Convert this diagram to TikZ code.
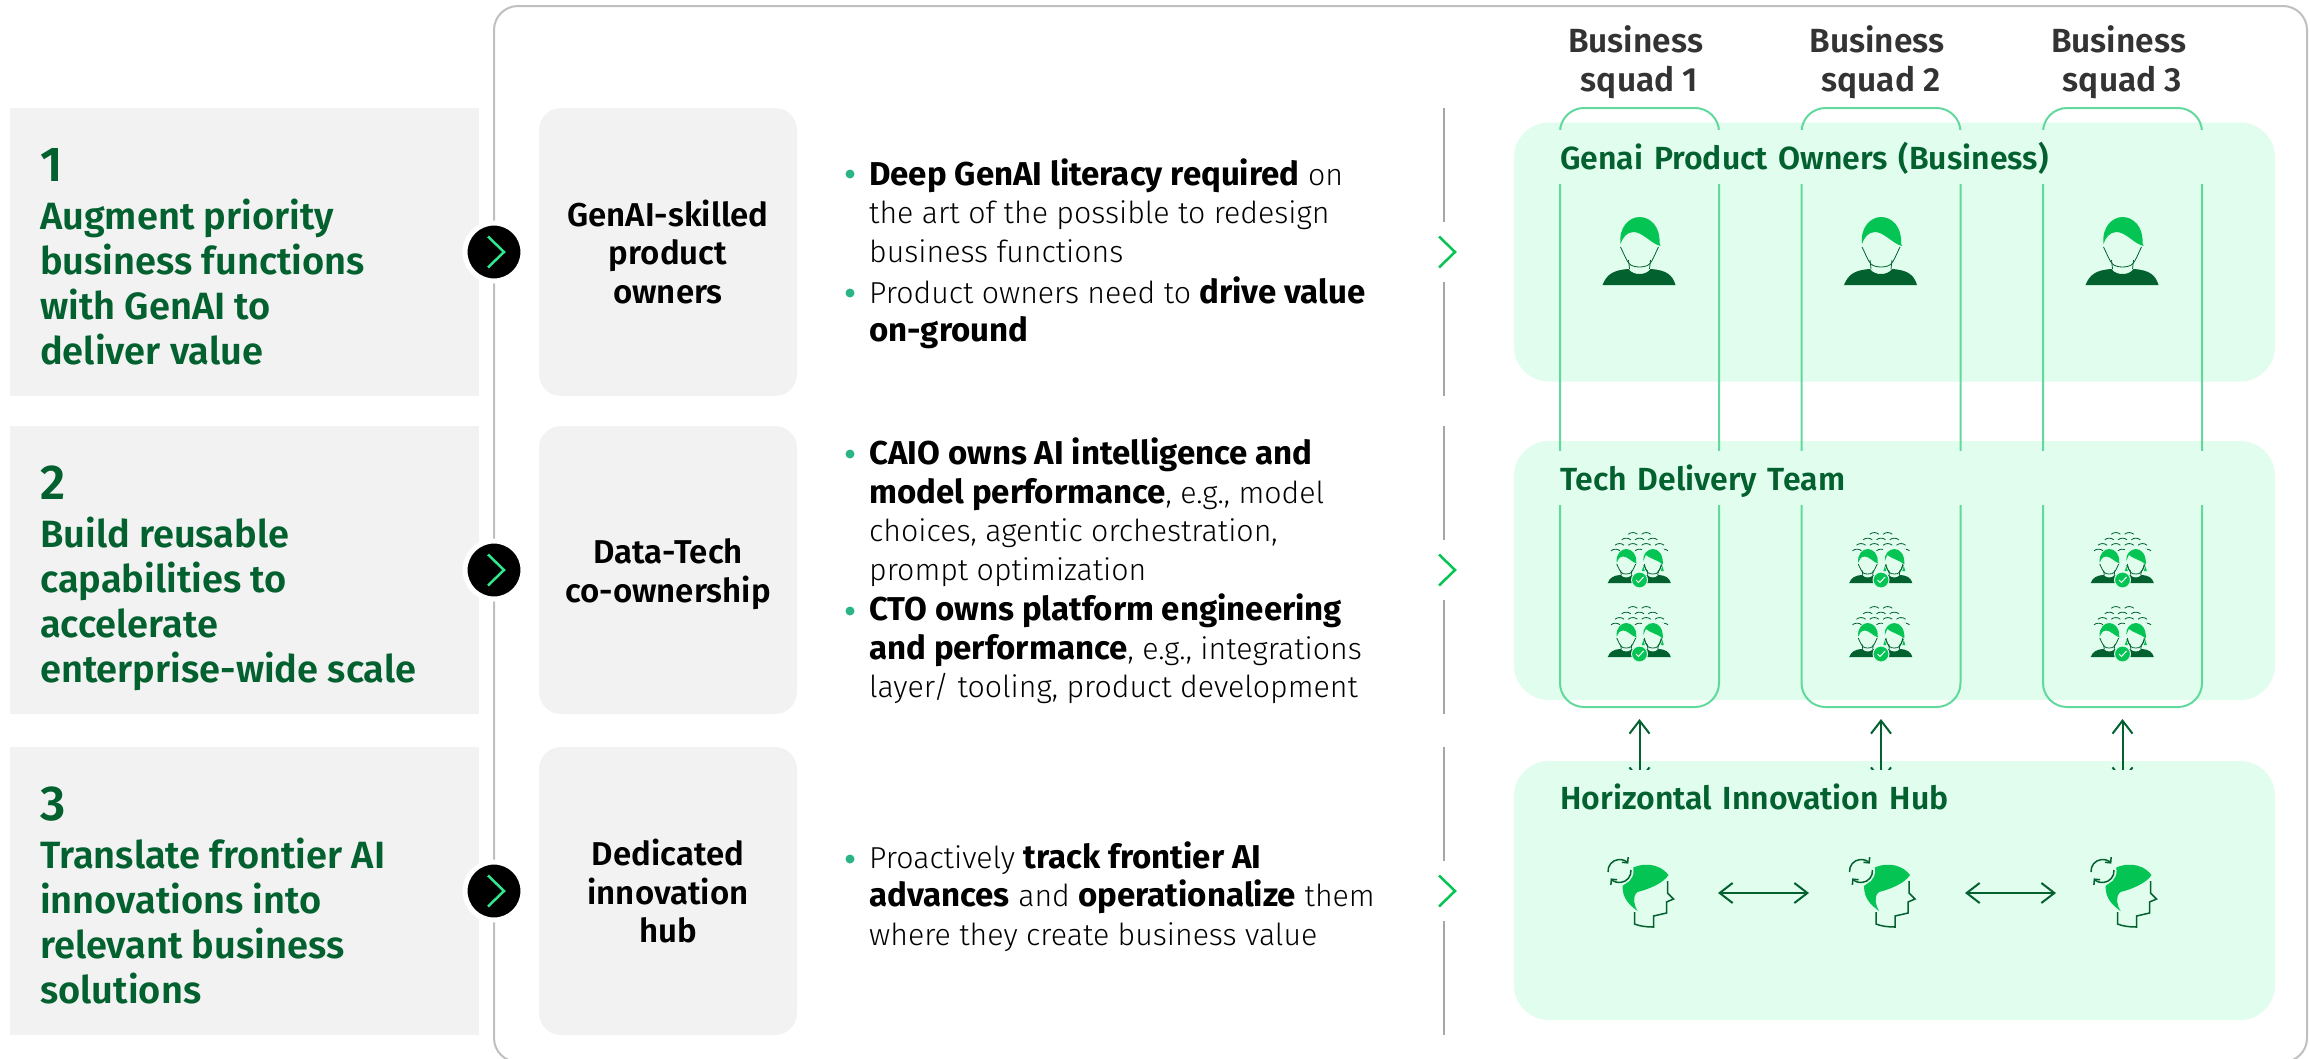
\documentclass[tikz,border=0pt]{standalone}
\usepackage{fontspec}
\setmainfont{Fira Sans Light}[BoldFont={Fira Sans Bold}, BoldFeatures={Scale=1.09}]
\newfontfamily\headfont{Fira Sans SemiBold}
\usetikzlibrary{arrows.meta}
\definecolor{darkgreen}{HTML}{03612F}
\definecolor{hairgreen}{HTML}{04C553}
\definecolor{panelgreen}{HTML}{E0FDEE}
\definecolor{squadgreen}{HTML}{62D99C}
\definecolor{dotgreen}{HTML}{2CB584}
\definecolor{greybox}{HTML}{F2F2F2}

\tikzset{
  leftbox/.style={fill=greybox, minimum width=469, minimum height=288, inner sep=0},
  skillbox/.style={fill=greybox, rounded corners=22, minimum width=258, minimum height=288, inner sep=0},
  skilltext/.style={align=center, inner sep=0, font=\headfont\fontsize{33}{38.5}\selectfont},
  lefttext/.style={anchor=base west, align=left, inner sep=0, text=darkgreen,
    font=\headfont\fontsize{38}{45}\selectfont},
  bodytext/.style={anchor=base west, align=left, inner sep=0, font=\fontsize{30.3}{38.5}\selectfont},
  panelbox/.style={fill=panelgreen, rounded corners=35, minimum width=761, minimum height=259, inner sep=0},
  squadbox/.style={draw=squadgreen, line width=2, rounded corners=24, minimum width=159, minimum height=599, inner sep=0},
  squadhead/.style={anchor=base, align=center, inner sep=0, text=black!80, font=\headfont\fontsize{33.5}{39}\selectfont},
  % the title strip hides whatever runs behind it
  paneltitle/.style={anchor=north west, fill=panelgreen, text=darkgreen, text width=660, minimum height=54,
    inner xsep=15, inner ysep=0, text height=28, text depth=4, font=\headfont\fontsize{32}{38}\selectfont},
  godot/.style={circle, fill=black, draw=white, line width=5, minimum size=58, inner sep=0},
  bulletdot/.style={circle, fill=dotgreen, minimum size=9, inner sep=0},
  divider/.style={draw=black!35, line width=2.5},
  chevron/.pic={\draw[pic actions, line width=2.5] (-8,-15.5) -- (8,0) -- (-8,15.5);},
  person/.pic={
    \fill[hairgreen] (-19,27) .. controls (-21,10) and (-10,0) .. (0,0) .. controls (11,0) and (21,10) .. (20,26)
      -- (21,29) .. controls (12,27) and (3,15) .. (-6,15) .. controls (-13,15) and (-17,21) .. (-19,27) -- cycle;
    \draw[darkgreen, line width=.8] (-19,30) .. controls (-15,38) and (-13,44) .. (-10,47) .. controls (-6,51) and (6,51) .. (10,47)
      .. controls (13,44) and (15,38) .. (19,30);
    \draw[darkgreen, line width=.8] (-11,43) -- (-10,52) (11,43) -- (10,52);
    \fill[darkgreen] (-37,68) .. controls (-33,58) and (-27,53) .. (-11,52) .. controls (-8,56) and (-4,57) .. (0,57)
      .. controls (4,57) and (8,56) .. (11,52) .. controls (27,53) and (33,58) .. (36,68) -- cycle;
  },
  womanhair/.pic={
    \fill[panelgreen] (-22,-1) rectangle (23,31);
    \fill[hairgreen] (-19,24) .. controls (-21,10) and (-10,0) .. (0,0) .. controls (11,0) and (21,10) .. (20,31)
      .. controls (10,22) and (-4,20) .. (-14,12) .. controls (-16,16) and (-17,20) .. (-19,24) -- cycle;
    \fill[hairgreen] (-19,34) -- (-16,44) -- (-22,44) -- cycle (19,34) -- (22,44) -- (16,44) -- cycle;
    \draw[darkgreen, line width=.8] (-17,30) .. controls (-15,38) and (-13,44) .. (-10,47);
    \draw[darkgreen, line width=.8] (10,47) .. controls (13,44) and (15,38) .. (17,30);
  },
  teamicon/.pic={
    \foreach \ax/\ay in {-6.7/1,6.7/1,-13.3/6.6,0/6.6,13.3/6.6,-20/12,-6.7/12,6.7/12,20/12,-24/17.6,0/17.6,24/17.6}
      \draw[darkgreen, line width=.8] ({\ax-4.5},{\ay+1.2}) .. controls ({\ax-2},{\ay-1}) and ({\ax+2},{\ay-1}) .. ({\ax+4.5},{\ay+1.2});
    \pic[scale=.5] at (-13.3,17) {person};
    \pic[scale=.5] at (13.3,17) {person};
    \pic[scale=.5] at (13.3,17) {womanhair};
    \fill[hairgreen, draw=panelgreen, line width=1] (0,48) circle (8);
    \draw[white, line width=1] (-3.5,48) -- (-1,50.5) -- (4,45);
  },
  headicon/.pic={
    \fill[hairgreen] (-7,-25) .. controls (0,-29) and (18,-32) .. (29,-18) .. controls (24,-10) and (10,-4) .. (-2,-1)
      .. controls (-8,4) and (-5,13) .. (-2,18) .. controls (-10,12) and (-17,6) .. (-17,-7)
      .. controls (-12,-10) and (-8,-17) .. (-7,-25) -- cycle;
    \draw[darkgreen, line width=1.5] (28,-12) -- (28,0) -- (34,6) -- (27,9) -- (27,20) -- (14,23) -- (14,34)
      .. controls (6,34) and (0,33) .. (-5,31) -- (-5,19);
    \fill[panelgreen] (-20,-22) circle (14);
    \draw[darkgreen, line width=1.5, -{Straight Barb[length=4,width=8]}] (-20,-22) ++(175:11.5) arc[start angle=175, end angle=320, radius=11.5];
    \draw[darkgreen, line width=1.5, -{Straight Barb[length=4,width=8]}] (-20,-22) ++(-5:11.5) arc[start angle=-5, end angle=140, radius=11.5];
  }
}

\begin{document}
\begin{tikzpicture}[x=1pt, y=-1pt, >={Straight Barb[length=13,width=20]}]
  \useasboundingbox (0,0) rectangle (2310,1058);
  % The big frame behind the rows
  \draw[black!25, line width=2, rounded corners=24] (494,6) rectangle (2307,1062);

  % The three rows on the left
  \foreach \i/\y/\sy/\txt/\skill in {
    1/252/252/{Augment priority\\business functions\\with GenAI to\\deliver value}/{GenAI-skilled\\product\\owners},
    2/570/574/{Build reusable\\capabilities to\\accelerate\\enterprise-wide scale}/{Data-Tech\\co-ownership},
    3/891/891/{Translate frontier AI\\innovations into\\relevant business\\solutions}/{Dedicated\\innovation\\hub}}{
    \node[leftbox] (left\i) at (244.5,\y) {};
    \node[skillbox] (skill\i) at (668,\y) {};
    \node[skilltext] (skilltext\i) at (668,\sy) {\skill};
    \node[lefttext, font=\headfont\fontsize{49}{49}\selectfont] (num\i) at (40,\y-71) {\i};
    \node[lefttext] (title\i) at (40,\y+112) {\txt};
    \node[godot] (go\i) at (494,\y) {};
    \pic[draw={rgb,255:red,50;green,232;blue,143}] at (496,\y) {chevron};
    % Dividers stop short of the chevron
    \draw[divider] (1444,\y-144) -- (1444,\y-30);
    \draw[divider] (1444,\y+30) -- (1444,\y+144);
    \pic[draw=hairgreen] at (1447,\y) {chevron};
  }

  % Bullet text
  \node[bulletdot] (dot1) at (850,174) {};
  \node[bodytext] (text1) at (869,262) {\textbf{Deep GenAI literacy required} on\\the art of the possible to redesign\\business functions};
  \node[bulletdot] (dot2) at (850,293) {};
  \node[bodytext] (text2) at (869,341.5) {Product owners need to \textbf{drive value}\\\textbf{on-ground}};
  \node[bulletdot] (dot3) at (850,454) {};
  \node[bodytext] (text3) at (869,580) {\textbf{CAIO owns AI intelligence and}\\\textbf{model performance}, e.g., model\\choices, agentic orchestration,\\prompt optimization};
  \node[bulletdot] (dot4) at (850,611) {};
  \node[bodytext] (text4) at (869,697.5) {\textbf{CTO owns platform engineering}\\\textbf{and performance}, e.g., integrations\\layer/ tooling, product development};
  \node[bulletdot] (dot5) at (850,859) {};
  \node[bodytext] (text5) at (869,945) {Proactively \textbf{track frontier AI}\\\textbf{advances} and \textbf{operationalize} them\\where they create business value};

  % Green panels first, squads on top of them
  \node[panelbox] (owners) at (1894.5,252) {};
  \node[panelbox] (tech) at (1894.5,570.5) {};
  \node[panelbox] (hub) at (1894.5,890.5) {};

  \foreach \i/\x in {1/1639.5,2/1881,3/2122.5}{
    \node[squadbox] (squad\i) at (\x,407.5) {};
    \node[squadhead] (head\i) at (\x,91) {Business\hspace*{8pt}\\squad \i};
    \pic at (\x,217) {person};
    \pic at (\x,532) {teamicon};
    \pic at (\x,606) {teamicon};
    \coordinate (up\i) at (\x,719);
    \coordinate (down\i) at (\x,782);
    \draw[<->, darkgreen, line width=2] (down\i) -- (up\i);
    \pic at (\x,893) {headicon};
  }

  % Titles hide the squad lines behind them
  \node[paneltitle] (ownerstitle) at (1545,130) {Genai Product Owners (Business)};
  \node[paneltitle] (techtitle) at (1545,451) {Tech Delivery Team};
  \node[paneltitle] (hubtitle) at (1545,770) {Horizontal Innovation Hub};

  \coordinate (pair1a) at (1718,893);
  \coordinate (pair1b) at (1809,893);
  \coordinate (pair2a) at (1965,893);
  \coordinate (pair2b) at (2056,893);
  \draw[<->, darkgreen, line width=2] (pair1a) -- (pair1b);
  \draw[<->, darkgreen, line width=2] (pair2a) -- (pair2b);
\end{tikzpicture}
\end{document}
